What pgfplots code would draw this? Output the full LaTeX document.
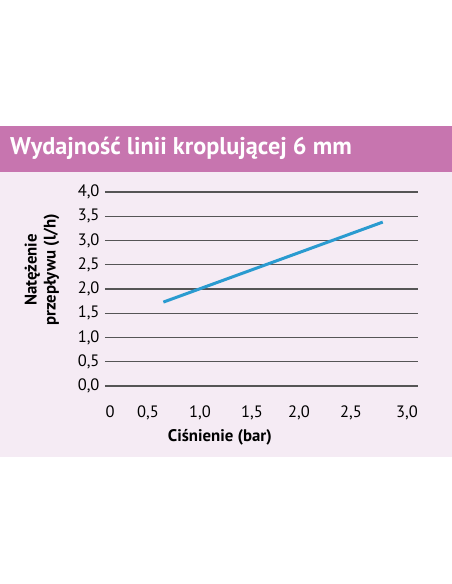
\documentclass[border=0pt]{standalone}
\usepackage{fontspec}
\setmainfont{PT Sans}
\usepackage{pgfplots}
\pgfplotsset{compat=1.18}
\definecolor{titlepink}{HTML}{C775AF}
\definecolor{bgl}{HTML}{F5EBF4}
\definecolor{lineblue}{HTML}{2A9BD0}
\definecolor{gridgray}{HTML}{555555}
\begin{document}
\begin{tikzpicture}[x=1pt,y=1pt]
\fill[white] (0,0) rectangle (452,584);
\useasboundingbox (0,0) rectangle (452,584);
\fill[bgl] (0,127) rectangle (452,412);
\fill[titlepink] (0,412) rectangle (452,458);
\node[anchor=base west, inner sep=0pt, text=white, font=\bfseries\fontsize{24.2}{28}\selectfont] at (10,429) {Wydajność linii kroplującej 6 mm};
\begin{axis}[
  at={(105pt,198pt)}, anchor=south west,
  scale only axis, width=313pt, height=194pt,
  xmin=0, xmax=3.11, ymin=0, ymax=4,
  axis line style={draw=none},
  major tick length=0pt,
  ymajorgrids, xmajorgrids=false,
  grid style={gridgray, line width=1.1pt},
  xtick={0.05,0.427,0.944,1.46,1.927,2.444,3.0},
  xticklabels={0,{0,5},{1,0},{1,5},{2,0},{2,5},{3,0}},
  ytick={0,0.5,1,1.5,2,2.5,3,3.5,4},
  yticklabels={{0,0},{0,5},{1,0},{1,5},{2,0},{2,5},{3,0},{3,5},{4,0}},
  tick label style={font=\fontsize{16.5}{18}\selectfont, text=black},
  xticklabel style={anchor=base, yshift=-32pt},
  yticklabel style={anchor=east, xshift=-2pt},
  xlabel={Ciśnienie (bar)},
  xlabel style={at={(axis description cs:0.367,-0.263)}, anchor=center, font=\bfseries\fontsize{16.8}{19}\selectfont},
  ylabel={Natężenie\\przepływu (l/h)},
  ylabel style={at={(axis description cs:-0.201,0.598)}, anchor=center, align=center, font=\bfseries\fontsize{16.8}{19}\selectfont},
]
\addplot[lineblue, line width=3pt, line cap=butt] coordinates {(0.58,1.73) (2.76,3.38)};
\end{axis}
\end{tikzpicture}
\end{document}
